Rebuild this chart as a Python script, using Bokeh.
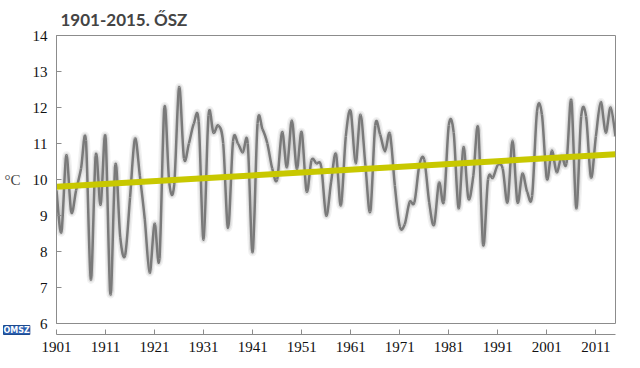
import numpy as np
from bokeh.plotting import figure
from bokeh.models import Range1d, FixedTicker, Title, ColumnDataSource
from bokeh.embed import file_html
from bokeh.resources import INLINE

# ---- data ----
years = list(range(1901, 2016))
temps = [
    9.7, 8.54, 10.67, 9.1, 9.7, 10.3, 11.08, 7.22, 10.67, 9.3,      # 1901-1910
    11.18, 6.81, 10.41, 8.4, 7.9, 9.5, 11.13, 10.1, 8.9, 7.41,      # 1911-1920
    8.77, 7.8, 12.0, 9.9, 9.85, 12.56, 10.59, 11.0, 11.55, 11.6,    # 1921-1930
    8.33, 11.78, 11.3, 11.5, 11.0, 8.65, 11.06, 11.0, 10.75, 11.0,  # 1931-1940
    7.98, 11.55, 11.4, 11.0, 10.3, 10.0, 11.32, 10.34, 11.64, 10.3, # 1941-1950
    11.32, 9.67, 10.53, 10.45, 10.35, 9.0, 9.93, 10.71, 9.28, 11.2, # 1951-1960
    11.9, 10.45, 11.8, 10.39, 9.11, 11.5, 11.25, 10.78, 11.27, 9.83, # 1961-1970
    8.7, 8.75, 9.37, 9.37, 10.4, 10.55, 9.37, 8.74, 9.91, 9.39,     # 1971-1980
    11.5, 11.3, 9.2, 10.9, 9.47, 10.1, 11.43, 8.19, 10.0, 10.05,    # 1981-1990
    10.4, 10.3, 9.37, 11.08, 9.37, 10.16, 9.65, 9.55, 11.9, 11.8,   # 1991-2000
    10.02, 10.8, 10.2, 10.65, 10.45, 12.2, 9.2, 11.75, 11.75, 10.06, # 2001-2010
    11.2, 12.15, 11.3, 12.0, 11.2,                                  # 2011-2015
]
trend_years = [1901, 2015]
trend_temps = [9.8, 10.7]
x_ticks = list(range(1901, 2012, 10))
y_ticks = list(range(6, 15))
title_text = "1901-2015. ŐSZ"
unit_text = "°C"
logo_text = "OMSZ"

assert len(years) == len(temps)

# ---- smoothed-line segments (Excel-like cubic Bezier through the points) ----
X = np.array(years, dtype=float)
Y = np.array(temps, dtype=float)
Xp = np.concatenate([[X[0]], X, [X[-1]]])
Yp = np.concatenate([[Y[0]], Y, [Y[-1]]])
n = len(X)
seg = dict(
    x0=X[:-1], y0=Y[:-1], x1=X[1:], y1=Y[1:],
    cx0=X[:-1] + (Xp[2:n + 1] - Xp[0:n - 1]) / 6.0,
    cy0=Y[:-1] + (Yp[2:n + 1] - Yp[0:n - 1]) / 6.0,
    cx1=X[1:] - (Xp[3:n + 2] - Xp[1:n]) / 6.0,
    cy1=Y[1:] - (Yp[3:n + 2] - Yp[1:n]) / 6.0,
)
src = ColumnDataSource(seg)

serif = "Liberation Serif"

p = figure(width=624, height=357,
           x_range=Range1d(years[0], years[-1]), y_range=Range1d(y_ticks[0], y_ticks[-1]),
           output_backend="svg", toolbar_location=None,
           min_border_left=56, min_border_right=9, min_border_top=35, min_border_bottom=34)

p.title.text = title_text
p.title.text_font = "Lato"
p.title.text_font_size = "17px"
p.title.text_font_style = "bold"
p.title.align = "left"
p.title.offset = 4
p.title.standoff = 11

p.grid.visible = False
p.outline_line_color = "#8c8c8c"
p.background_fill_color = "white"
p.border_fill_color = "white"

for ax in (p.xaxis[0], p.yaxis[0]):
    ax.axis_line_color = "#8c8c8c"
    ax.major_tick_line_color = "#8c8c8c"
    ax.major_tick_in = 5
    ax.major_tick_out = 0
    ax.minor_tick_line_color = None
    ax.major_label_text_font = serif
    ax.major_label_text_font_size = "15px"
    ax.major_label_text_color = "#111111"

p.xaxis.ticker = FixedTicker(ticks=x_ticks)
p.yaxis.ticker = FixedTicker(ticks=y_ticks)
p.yaxis.major_label_standoff = 9
p.yaxis.axis_label = unit_text
p.yaxis.axis_label_orientation = "horizontal"
p.yaxis.axis_label_text_font = serif
p.yaxis.axis_label_text_font_style = "normal"
p.yaxis.axis_label_text_font_size = "15px"
p.yaxis.axis_label_standoff = 9

# soft shadow + main smoothed line
p.bezier(x0="x0", y0="y0", x1="x1", y1="y1", cx0="cx0", cy0="cy0", cx1="cx1", cy1="cy1",
         source=src, line_color="#8a8a8a", line_width=8, line_alpha=0.12)
p.bezier(x0="x0", y0="y0", x1="x1", y1="y1", cx0="cx0", cy0="cy0", cx1="cx1", cy1="cy1",
         source=src, line_color="#8a8a8a", line_width=5, line_alpha=0.18)
p.bezier(x0="x0", y0="y0", x1="x1", y1="y1", cx0="cx0", cy0="cy0", cx1="cx1", cy1="cy1",
         source=src, line_color="#7a7a7a", line_width=2.5)

# linear trend
p.line(trend_years, trend_temps, line_color="#c8c800", line_width=6)

# logo: small boxed text placed in the panel between the frame and the x tick labels,
# shifted to the far left (titles are not clipped to the plot frame)
logo = Title(text=logo_text, align="left", text_font="DejaVu Sans", text_font_size="8px",
             text_font_style="bold", text_color="white", background_fill_color="#2b5fb0",
             border_line_color="#1d4a8f", standoff=0, offset=-53)
p.below.insert(0, logo)
p.xaxis.major_label_standoff = 7

open("out.html", "w").write(file_html(p, INLINE))
